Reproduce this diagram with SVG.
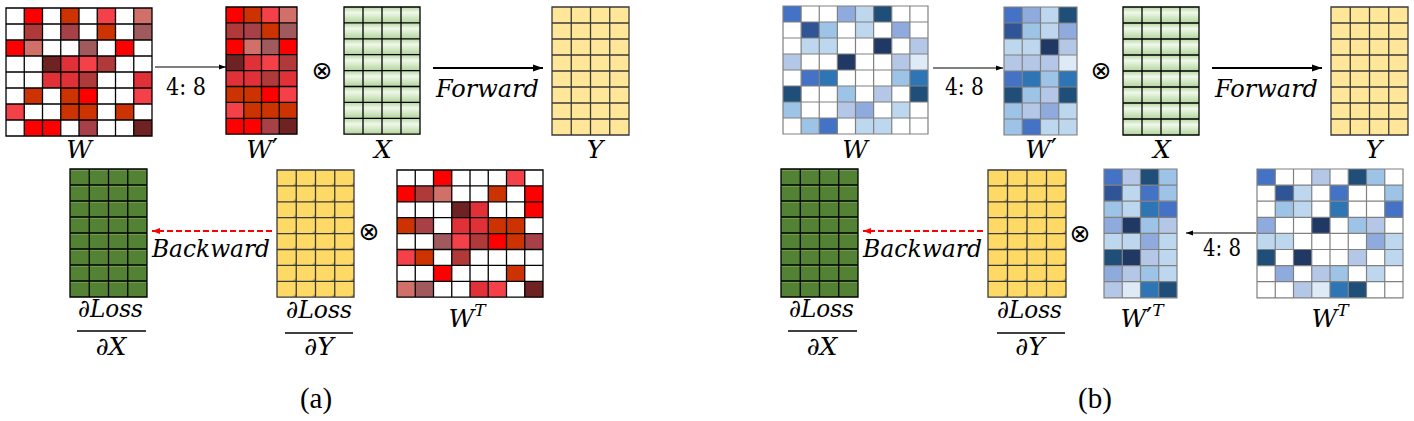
<svg xmlns="http://www.w3.org/2000/svg" xmlns:xlink="http://www.w3.org/1999/xlink" width="1414" height="421" viewBox="0 0 1414 421">
<style>
.r1{fill:#FF0000}.r2{fill:#CC3300}.r3{fill:#F44048}.r4{fill:#D07068}.r5{fill:#B03A3A}.r6{fill:#A84048}.r7{fill:#A05A5E}.r8{fill:#6E2222}.r9{fill:#E03038}
.b1{fill:#4472C4}.b2{fill:#8FAADC}.b3{fill:#BDD7EE}.b4{fill:#1F4E79}.b5{fill:#2F5597}.b6{fill:#9DC3E6}.b7{fill:#203864}.b8{fill:#B4C7E7}.b9{fill:#DEEBF7}.b10{fill:#2E75B6}
.gk{stroke:#000;stroke-width:1.3;fill:none}
.gb{stroke:#808080;stroke-width:1.2;fill:none}
.gy{stroke:#3a3a3a;stroke-width:1.3;fill:none}
.t{font-family:"DejaVu Serif",serif;font-style:italic;font-size:25px;fill:#000}
.pr{font-family:"DejaVu Sans",sans-serif;font-style:normal;font-size:26px}
.sup{font-size:17px}
.n{font-family:"DejaVu Serif",serif;font-size:24px;fill:#000}
.op{font-family:"DejaVu Sans",sans-serif;font-size:25px;fill:#000}
.cap{font-family:"Liberation Serif",serif;font-size:29px;fill:#000}
.fl{stroke:#000;stroke-width:1.5}
.a1{stroke:#000;stroke-width:1.2;fill:none}
.a2{stroke:#000;stroke-width:2;fill:none}
.ar{stroke:#FF0000;stroke-width:2;stroke-dasharray:6 3;fill:none}
</style>
<defs>
<path id="g8" vector-effect="non-scaling-stroke" d="M0,0H8V8H0Z M0,1H8M0,2H8M0,3H8M0,4H8M0,5H8M0,6H8M0,7H8 M1,0V8M2,0V8M3,0V8M4,0V8M5,0V8M6,0V8M7,0V8"/>
<path id="g4" vector-effect="non-scaling-stroke" d="M0,0H4V8H0Z M0,1H4M0,2H4M0,3H4M0,4H4M0,5H4M0,6H4M0,7H4 M1,0V8M2,0V8M3,0V8"/>
<linearGradient id="lg" x1="0" y1="0" x2="0" y2="1">
<stop offset="0" stop-color="#b7d7a2"/><stop offset="0.35" stop-color="#f0f8ea"/><stop offset="1" stop-color="#b3d59c"/>
</linearGradient>
<pattern id="px" patternUnits="userSpaceOnUse" width="1" height="1"><rect width="1" height="1" fill="url(#lg)"/></pattern>
<linearGradient id="cg" x1="0" y1="0" x2="1" y2="1">
<stop offset="0.5" stop-color="#FFD966"/><stop offset="1" stop-color="#5f6a1e"/>
</linearGradient>
<pattern id="py" patternUnits="userSpaceOnUse" width="1" height="1"><rect width="1" height="1" fill="#FFD966"/><polygon points="0.72,1 1,0.72 1,1" fill="url(#cg)"/></pattern>
<pattern id="pg" patternUnits="userSpaceOnUse" width="1" height="1"><rect width="1" height="1" fill="#548235"/><rect y="0.05" width="1" height="0.04" fill="#9cb48c"/></pattern>
<marker id="mk1" markerUnits="userSpaceOnUse" markerWidth="8" markerHeight="6" refX="7" refY="3" orient="auto"><path d="M0,0.5L7,3L0,5.5Z" fill="#000"/></marker>
<marker id="mk2" markerUnits="userSpaceOnUse" markerWidth="11" markerHeight="8" refX="10" refY="4" orient="auto"><path d="M0,0.5L10,4L0,7.5Z" fill="#000"/></marker>
<marker id="mkr" markerUnits="userSpaceOnUse" markerWidth="9" markerHeight="8" refX="8" refY="4" orient="auto"><path d="M0,1L8,4L0,7Z" fill="#FF0000"/></marker>
</defs>

<!-- ========== Panel (a) ========== -->
<g id="a-W">
<g transform="translate(6,8) scale(18.25,16)">
<rect width="8" height="8" fill="#fff"/>
<rect x="1" y="0" width="1" height="1" class="r1"/><rect x="3" y="0" width="1" height="1" class="r2"/><rect x="5" y="0" width="1" height="1" class="r3"/><rect x="7" y="0" width="1" height="1" class="r4"/>
<rect x="1" y="1" width="1" height="1" class="r5"/><rect x="3" y="1" width="1" height="1" class="r6"/><rect x="5" y="1" width="1" height="1" class="r2"/><rect x="7" y="1" width="1" height="1" class="r7"/>
<rect x="0" y="2" width="1" height="1" class="r1"/><rect x="1" y="2" width="1" height="1" class="r4"/><rect x="4" y="2" width="1" height="1" class="r7"/><rect x="6" y="2" width="1" height="1" class="r1"/>
<rect x="2" y="3" width="1" height="1" class="r8"/><rect x="3" y="3" width="1" height="1" class="r9"/><rect x="4" y="3" width="1" height="1" class="r3"/><rect x="5" y="3" width="1" height="1" class="r5"/>
<rect x="2" y="4" width="1" height="1" class="r9"/><rect x="3" y="4" width="1" height="1" class="r9"/><rect x="4" y="4" width="1" height="1" class="r5"/><rect x="7" y="4" width="1" height="1" class="r9"/>
<rect x="1" y="5" width="1" height="1" class="r2"/><rect x="3" y="5" width="1" height="1" class="r2"/><rect x="4" y="5" width="1" height="1" class="r1"/><rect x="7" y="5" width="1" height="1" class="r3"/>
<rect x="0" y="6" width="1" height="1" class="r3"/><rect x="3" y="6" width="1" height="1" class="r2"/><rect x="4" y="6" width="1" height="1" class="r2"/><rect x="6" y="6" width="1" height="1" class="r2"/>
<rect x="1" y="7" width="1" height="1" class="r1"/><rect x="2" y="7" width="1" height="1" class="r1"/><rect x="4" y="7" width="1" height="1" class="r6"/><rect x="7" y="7" width="1" height="1" class="r8"/>
<use xlink:href="#g8" class="gk"/>
</g>
<text class="t" x="79" y="158" text-anchor="middle">W</text>
</g>

<g id="a-Wp">
<g transform="translate(226,7) scale(17.75,15.9)">
<rect x="0" y="0" width="1" height="1" class="r1"/><rect x="1" y="0" width="1" height="1" class="r2"/><rect x="2" y="0" width="1" height="1" class="r3"/><rect x="3" y="0" width="1" height="1" class="r4"/>
<rect x="0" y="1" width="1" height="1" class="r5"/><rect x="1" y="1" width="1" height="1" class="r6"/><rect x="2" y="1" width="1" height="1" class="r2"/><rect x="3" y="1" width="1" height="1" class="r7"/>
<rect x="0" y="2" width="1" height="1" class="r1"/><rect x="1" y="2" width="1" height="1" class="r4"/><rect x="2" y="2" width="1" height="1" class="r7"/><rect x="3" y="2" width="1" height="1" class="r1"/>
<rect x="0" y="3" width="1" height="1" class="r8"/><rect x="1" y="3" width="1" height="1" class="r9"/><rect x="2" y="3" width="1" height="1" class="r3"/><rect x="3" y="3" width="1" height="1" class="r5"/>
<rect x="0" y="4" width="1" height="1" class="r9"/><rect x="1" y="4" width="1" height="1" class="r9"/><rect x="2" y="4" width="1" height="1" class="r5"/><rect x="3" y="4" width="1" height="1" class="r9"/>
<rect x="0" y="5" width="1" height="1" class="r2"/><rect x="1" y="5" width="1" height="1" class="r2"/><rect x="2" y="5" width="1" height="1" class="r1"/><rect x="3" y="5" width="1" height="1" class="r3"/>
<rect x="0" y="6" width="1" height="1" class="r3"/><rect x="1" y="6" width="1" height="1" class="r2"/><rect x="2" y="6" width="1" height="1" class="r2"/><rect x="3" y="6" width="1" height="1" class="r2"/>
<rect x="0" y="7" width="1" height="1" class="r1"/><rect x="1" y="7" width="1" height="1" class="r1"/><rect x="2" y="7" width="1" height="1" class="r6"/><rect x="3" y="7" width="1" height="1" class="r8"/>
<use xlink:href="#g4" class="gk"/>
</g>
<text class="t" x="262" y="158" text-anchor="middle">W<tspan class="pr">′</tspan></text>
</g>

<g id="a-X">
<g transform="translate(344,7) scale(19,15.9)">
<rect width="4" height="8" fill="url(#px)"/>
<use xlink:href="#g4" class="gk"/>
</g>
<text class="t" x="383" y="158" text-anchor="middle">X</text>
</g>

<g id="a-Y">
<g transform="translate(552,7) scale(19.25,16)">
<rect width="4" height="8" fill="#FFE699"/>
<use xlink:href="#g4" class="gy"/>
</g>
<text class="t" x="595" y="158" text-anchor="middle">Y</text>
</g>

<g id="a-dX">
<g transform="translate(70,169) scale(19.25,16)">
<rect width="4" height="8" fill="url(#pg)"/>
<use xlink:href="#g4" class="gk"/>
</g>
<text class="t" x="78" y="317" textLength="65" lengthAdjust="spacingAndGlyphs">∂Loss</text>
<line class="fl" x1="77" y1="331" x2="146" y2="331"/>
<text class="t" x="111" y="355" text-anchor="middle">∂X</text>
</g>

<g id="a-dY">
<g transform="translate(277,170) scale(19.25,15.9)">
<rect width="4" height="8" fill="url(#py)"/>
<use xlink:href="#g4" class="gy"/>
</g>
<text class="t" x="286" y="318" textLength="66" lengthAdjust="spacingAndGlyphs">∂Loss</text>
<line class="fl" x1="285" y1="333" x2="353" y2="333"/>
<text class="t" x="319" y="355" text-anchor="middle">∂Y</text>
</g>

<g id="a-WT">
<g transform="translate(397,170) scale(18.25,15.9)">
<rect width="8" height="8" fill="#fff"/>
<rect x="2" y="0" width="1" height="1" class="r1"/><rect x="6" y="0" width="1" height="1" class="r3"/>
<rect x="0" y="1" width="1" height="1" class="r1"/><rect x="1" y="1" width="1" height="1" class="r5"/><rect x="2" y="1" width="1" height="1" class="r4"/><rect x="5" y="1" width="1" height="1" class="r2"/><rect x="7" y="1" width="1" height="1" class="r1"/>
<rect x="3" y="2" width="1" height="1" class="r8"/><rect x="4" y="2" width="1" height="1" class="r9"/><rect x="7" y="2" width="1" height="1" class="r1"/>
<rect x="0" y="3" width="1" height="1" class="r2"/><rect x="1" y="3" width="1" height="1" class="r6"/><rect x="3" y="3" width="1" height="1" class="r9"/><rect x="4" y="3" width="1" height="1" class="r9"/><rect x="5" y="3" width="1" height="1" class="r2"/><rect x="6" y="3" width="1" height="1" class="r2"/>
<rect x="2" y="4" width="1" height="1" class="r7"/><rect x="3" y="4" width="1" height="1" class="r3"/><rect x="4" y="4" width="1" height="1" class="r5"/><rect x="5" y="4" width="1" height="1" class="r1"/><rect x="6" y="4" width="1" height="1" class="r2"/><rect x="7" y="4" width="1" height="1" class="r6"/>
<rect x="0" y="5" width="1" height="1" class="r3"/><rect x="1" y="5" width="1" height="1" class="r2"/><rect x="3" y="5" width="1" height="1" class="r5"/>
<rect x="2" y="6" width="1" height="1" class="r1"/><rect x="6" y="6" width="1" height="1" class="r2"/>
<rect x="0" y="7" width="1" height="1" class="r4"/><rect x="1" y="7" width="1" height="1" class="r7"/><rect x="4" y="7" width="1" height="1" class="r9"/><rect x="5" y="7" width="1" height="1" class="r3"/><rect x="7" y="7" width="1" height="1" class="r8"/>
<use xlink:href="#g8" class="gk"/>
</g>
<text class="t" x="467" y="327" text-anchor="middle">W<tspan class="sup" dy="-11">T</tspan></text>
</g>

<!-- ========== Panel (b) ========== -->
<g id="b-W">
<g transform="translate(783,6) scale(18.125,16)">
<rect width="8" height="8" fill="#fff"/>
<rect x="0" y="0" width="1" height="1" class="b1"/><rect x="3" y="0" width="1" height="1" class="b2"/><rect x="4" y="0" width="1" height="1" class="b3"/><rect x="5" y="0" width="1" height="1" class="b4"/>
<rect x="1" y="1" width="1" height="1" class="b5"/><rect x="2" y="1" width="1" height="1" class="b6"/><rect x="4" y="1" width="1" height="1" class="b3"/><rect x="6" y="1" width="1" height="1" class="b2"/>
<rect x="1" y="2" width="1" height="1" class="b3"/><rect x="2" y="2" width="1" height="1" class="b3"/><rect x="5" y="2" width="1" height="1" class="b7"/><rect x="7" y="2" width="1" height="1" class="b8"/>
<rect x="0" y="3" width="1" height="1" class="b8"/><rect x="3" y="3" width="1" height="1" class="b7"/><rect x="6" y="3" width="1" height="1" class="b8"/><rect x="7" y="3" width="1" height="1" class="b9"/>
<rect x="1" y="4" width="1" height="1" class="b1"/><rect x="2" y="4" width="1" height="1" class="b10"/><rect x="6" y="4" width="1" height="1" class="b6"/><rect x="7" y="4" width="1" height="1" class="b10"/>
<rect x="0" y="5" width="1" height="1" class="b4"/><rect x="3" y="5" width="1" height="1" class="b6"/><rect x="5" y="5" width="1" height="1" class="b8"/><rect x="7" y="5" width="1" height="1" class="b4"/>
<rect x="0" y="6" width="1" height="1" class="b6"/><rect x="3" y="6" width="1" height="1" class="b8"/><rect x="4" y="6" width="1" height="1" class="b2"/><rect x="6" y="6" width="1" height="1" class="b3"/>
<rect x="1" y="7" width="1" height="1" class="b6"/><rect x="2" y="7" width="1" height="1" class="b1"/><rect x="4" y="7" width="1" height="1" class="b3"/><rect x="5" y="7" width="1" height="1" class="b3"/>
<use xlink:href="#g8" class="gb"/>
</g>
<text class="t" x="855" y="158" text-anchor="middle">W</text>
</g>

<g id="b-Wp">
<g transform="translate(1004,7) scale(18.25,16)">
<rect x="0" y="0" width="1" height="1" class="b1"/><rect x="1" y="0" width="1" height="1" class="b2"/><rect x="2" y="0" width="1" height="1" class="b3"/><rect x="3" y="0" width="1" height="1" class="b4"/>
<rect x="0" y="1" width="1" height="1" class="b5"/><rect x="1" y="1" width="1" height="1" class="b6"/><rect x="2" y="1" width="1" height="1" class="b3"/><rect x="3" y="1" width="1" height="1" class="b2"/>
<rect x="0" y="2" width="1" height="1" class="b3"/><rect x="1" y="2" width="1" height="1" class="b3"/><rect x="2" y="2" width="1" height="1" class="b7"/><rect x="3" y="2" width="1" height="1" class="b8"/>
<rect x="0" y="3" width="1" height="1" class="b8"/><rect x="1" y="3" width="1" height="1" class="b8"/><rect x="2" y="3" width="1" height="1" class="b8"/><rect x="3" y="3" width="1" height="1" class="b9"/>
<rect x="0" y="4" width="1" height="1" class="b1"/><rect x="1" y="4" width="1" height="1" class="b10"/><rect x="2" y="4" width="1" height="1" class="b6"/><rect x="3" y="4" width="1" height="1" class="b10"/>
<rect x="0" y="5" width="1" height="1" class="b4"/><rect x="1" y="5" width="1" height="1" class="b6"/><rect x="2" y="5" width="1" height="1" class="b8"/><rect x="3" y="5" width="1" height="1" class="b4"/>
<rect x="0" y="6" width="1" height="1" class="b6"/><rect x="1" y="6" width="1" height="1" class="b8"/><rect x="2" y="6" width="1" height="1" class="b2"/><rect x="3" y="6" width="1" height="1" class="b3"/>
<rect x="0" y="7" width="1" height="1" class="b6"/><rect x="1" y="7" width="1" height="1" class="b1"/><rect x="2" y="7" width="1" height="1" class="b3"/><rect x="3" y="7" width="1" height="1" class="b3"/>
<use xlink:href="#g4" class="gb"/>
</g>
<text class="t" x="1041" y="158" text-anchor="middle">W<tspan class="pr">′</tspan></text>
</g>

<g id="b-X">
<g transform="translate(1123,7) scale(19,16)">
<rect width="4" height="8" fill="url(#px)"/>
<use xlink:href="#g4" class="gk"/>
</g>
<text class="t" x="1162" y="158" text-anchor="middle">X</text>
</g>

<g id="b-Y">
<g transform="translate(1331,7) scale(19.25,16)">
<rect width="4" height="8" fill="#FFE699"/>
<use xlink:href="#g4" class="gy"/>
</g>
<text class="t" x="1374" y="158" text-anchor="middle">Y</text>
</g>

<g id="b-dX">
<g transform="translate(781,169) scale(19.25,16)">
<rect width="4" height="8" fill="url(#pg)"/>
<use xlink:href="#g4" class="gk"/>
</g>
<text class="t" x="789" y="317" textLength="65" lengthAdjust="spacingAndGlyphs">∂Loss</text>
<line class="fl" x1="788" y1="331" x2="857" y2="331"/>
<text class="t" x="822" y="355" text-anchor="middle">∂X</text>
</g>

<g id="b-dY">
<g transform="translate(988,170) scale(19.5,15.9)">
<rect width="4" height="8" fill="url(#py)"/>
<use xlink:href="#g4" class="gy"/>
</g>
<text class="t" x="997" y="318" textLength="65" lengthAdjust="spacingAndGlyphs">∂Loss</text>
<line class="fl" x1="997" y1="333" x2="1065" y2="333"/>
<text class="t" x="1030" y="355" text-anchor="middle">∂Y</text>
</g>

<g id="b-WpT">
<g transform="translate(1104,169) scale(18.25,16.1)">
<rect x="0" y="0" width="1" height="1" class="b1"/><rect x="1" y="0" width="1" height="1" class="b8"/><rect x="2" y="0" width="1" height="1" class="b4"/><rect x="3" y="0" width="1" height="1" class="b6"/>
<rect x="0" y="1" width="1" height="1" class="b5"/><rect x="1" y="1" width="1" height="1" class="b3"/><rect x="2" y="1" width="1" height="1" class="b1"/><rect x="3" y="1" width="1" height="1" class="b6"/>
<rect x="0" y="2" width="1" height="1" class="b6"/><rect x="1" y="2" width="1" height="1" class="b3"/><rect x="2" y="2" width="1" height="1" class="b10"/><rect x="3" y="2" width="1" height="1" class="b1"/>
<rect x="0" y="3" width="1" height="1" class="b2"/><rect x="1" y="3" width="1" height="1" class="b7"/><rect x="2" y="3" width="1" height="1" class="b6"/><rect x="3" y="3" width="1" height="1" class="b8"/>
<rect x="0" y="4" width="1" height="1" class="b3"/><rect x="1" y="4" width="1" height="1" class="b3"/><rect x="2" y="4" width="1" height="1" class="b2"/><rect x="3" y="4" width="1" height="1" class="b3"/>
<rect x="0" y="5" width="1" height="1" class="b4"/><rect x="1" y="5" width="1" height="1" class="b7"/><rect x="2" y="5" width="1" height="1" class="b8"/><rect x="3" y="5" width="1" height="1" class="b3"/>
<rect x="0" y="6" width="1" height="1" class="b2"/><rect x="1" y="6" width="1" height="1" class="b8"/><rect x="2" y="6" width="1" height="1" class="b6"/><rect x="3" y="6" width="1" height="1" class="b3"/>
<rect x="0" y="7" width="1" height="1" class="b8"/><rect x="1" y="7" width="1" height="1" class="b9"/><rect x="2" y="7" width="1" height="1" class="b10"/><rect x="3" y="7" width="1" height="1" class="b4"/>
<use xlink:href="#g4" class="gb"/>
</g>
<text class="t" x="1142" y="327" text-anchor="middle">W<tspan class="pr">′</tspan><tspan class="sup" dy="-11">T</tspan></text>
</g>

<g id="b-WT">
<g transform="translate(1257,169) scale(18.25,16.1)">
<rect width="8" height="8" fill="#fff"/>
<rect x="0" y="0" width="1" height="1" class="b1"/><rect x="3" y="0" width="1" height="1" class="b8"/><rect x="5" y="0" width="1" height="1" class="b4"/><rect x="6" y="0" width="1" height="1" class="b6"/>
<rect x="1" y="1" width="1" height="1" class="b5"/><rect x="2" y="1" width="1" height="1" class="b3"/><rect x="4" y="1" width="1" height="1" class="b1"/><rect x="7" y="1" width="1" height="1" class="b6"/>
<rect x="1" y="2" width="1" height="1" class="b6"/><rect x="2" y="2" width="1" height="1" class="b3"/><rect x="4" y="2" width="1" height="1" class="b10"/><rect x="7" y="2" width="1" height="1" class="b1"/>
<rect x="0" y="3" width="1" height="1" class="b2"/><rect x="3" y="3" width="1" height="1" class="b7"/><rect x="5" y="3" width="1" height="1" class="b6"/><rect x="6" y="3" width="1" height="1" class="b8"/>
<rect x="0" y="4" width="1" height="1" class="b3"/><rect x="1" y="4" width="1" height="1" class="b3"/><rect x="6" y="4" width="1" height="1" class="b2"/><rect x="7" y="4" width="1" height="1" class="b3"/>
<rect x="0" y="5" width="1" height="1" class="b4"/><rect x="2" y="5" width="1" height="1" class="b7"/><rect x="5" y="5" width="1" height="1" class="b8"/><rect x="7" y="5" width="1" height="1" class="b3"/>
<rect x="1" y="6" width="1" height="1" class="b2"/><rect x="3" y="6" width="1" height="1" class="b8"/><rect x="4" y="6" width="1" height="1" class="b6"/><rect x="6" y="6" width="1" height="1" class="b3"/>
<rect x="2" y="7" width="1" height="1" class="b8"/><rect x="3" y="7" width="1" height="1" class="b9"/><rect x="4" y="7" width="1" height="1" class="b10"/><rect x="5" y="7" width="1" height="1" class="b4"/>
<use xlink:href="#g8" class="gb"/>
</g>
<text class="t" x="1330" y="327" text-anchor="middle">W<tspan class="sup" dy="-11">T</tspan></text>
</g>

<!-- ========== Connectors ========== -->
<g id="connectors">
<line class="a1" x1="155" y1="67" x2="226" y2="67" marker-end="url(#mk1)"/>
<line class="a2" x1="433" y1="68" x2="543" y2="68" marker-end="url(#mk2)"/>
<line class="ar" x1="272" y1="231" x2="152" y2="231" marker-end="url(#mkr)"/>
<line class="a1" x1="933" y1="68" x2="1003" y2="68" marker-end="url(#mk1)"/>
<line class="a2" x1="1212" y1="68" x2="1322" y2="68" marker-end="url(#mk2)"/>
<line class="ar" x1="983" y1="231" x2="863" y2="231" marker-end="url(#mkr)"/>
<line class="a1" x1="1256" y1="233" x2="1186" y2="233" marker-end="url(#mk1)"/>
</g>

<!-- ========== Labels / operators ========== -->
<g id="labels">
<text class="n" x="166" y="95" textLength="40" lengthAdjust="spacingAndGlyphs">4: 8</text>
<text class="t" x="436" y="97" textLength="103" lengthAdjust="spacingAndGlyphs">Forward</text>
<text class="t" x="152" y="257" textLength="118" lengthAdjust="spacingAndGlyphs">Backward</text>
<text class="op" x="322" y="79" text-anchor="middle">⊗</text>
<text class="op" x="369" y="240" text-anchor="middle">⊗</text>
<text class="n" x="945" y="95" textLength="39" lengthAdjust="spacingAndGlyphs">4: 8</text>
<text class="t" x="1215" y="97" textLength="103" lengthAdjust="spacingAndGlyphs">Forward</text>
<text class="t" x="863" y="257" textLength="119" lengthAdjust="spacingAndGlyphs">Backward</text>
<text class="op" x="1101" y="79" text-anchor="middle">⊗</text>
<text class="op" x="1080" y="242" text-anchor="middle">⊗</text>
<text class="n" x="1203" y="256" textLength="38" lengthAdjust="spacingAndGlyphs">4: 8</text>
<text class="cap" x="316" y="408" text-anchor="middle">(a)</text>
<text class="cap" x="1095" y="408" text-anchor="middle">(b)</text>
</g>
</svg>
